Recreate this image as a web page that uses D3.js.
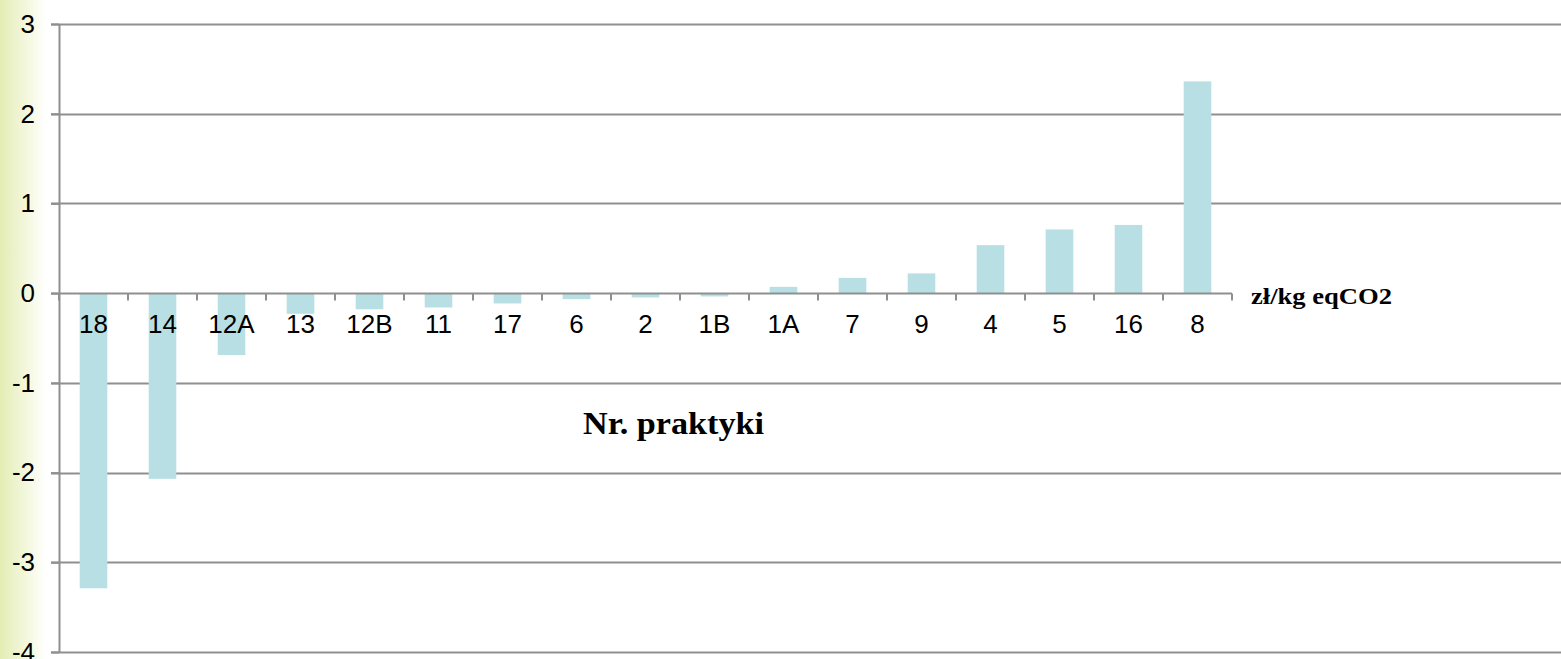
<!DOCTYPE html>
<html>
<head>
<meta charset="utf-8">
<script src="https://cdn.jsdelivr.net/npm/d3@7"></script>
<style>
  html, body { margin: 0; padding: 0; background: #fff; }
  svg { display: block; }
</style>
</head>
<body>
<svg id="chart"></svg>
<script>
// data
const categories = ["18", "14", "12A", "13", "12B", "11", "17", "6", "2", "1B", "1A", "7", "9", "4", "5", "16", "8"];
const values = [-3.29, -2.07, -0.69, -0.23, -0.18, -0.16, -0.115, -0.067, -0.048, -0.037, 0.07, 0.17, 0.22, 0.535, 0.71, 0.76, 2.36];
const yTicks = [3, 2, 1, 0, -1, -2, -3, -4];

const w = 1561, h = 659;
const margin = { top: 24, left: 59, bottom: 7 };
const catRight = 1232;   // category axis stops here
const gridRight = 1561;  // gridlines run to the edge

const svg = d3.select("#chart").attr("width", w).attr("height", h);

// pale green strip at the left edge
const defs = svg.append("defs");
const grad = defs.append("linearGradient").attr("id", "edge").attr("x1", 0).attr("x2", 1).attr("y1", 0).attr("y2", 0);
grad.append("stop").attr("offset", "0%").attr("stop-color", "#e3edb4");
grad.append("stop").attr("offset", "55%").attr("stop-color", "#f3f7dc");
grad.append("stop").attr("offset", "100%").attr("stop-color", "#ffffff");
svg.append("rect").attr("x", 0).attr("y", 0).attr("width", 46).attr("height", h).attr("fill", "url(#edge)");

const y = d3.scaleLinear().domain([-4, 3]).range([h - margin.bottom, margin.top]);
const x = d3.scaleBand().domain(categories).range([margin.left, catRight]).padding(0);

// horizontal gridlines (not the zero line, that's the axis)
svg.append("g")
  .selectAll("line")
  .data(yTicks.filter(d => d !== 0))
  .join("line")
    .attr("x1", margin.left - 8)
    .attr("x2", gridRight)
    .attr("y1", d => Math.round(y(d)) + 0.5)
    .attr("y2", d => Math.round(y(d)) + 0.5)
    .attr("stroke", "#8f8f8f")
    .attr("stroke-width", 2);

// bars
const barW = x.bandwidth() * 0.4;
svg.append("g")
  .selectAll("rect")
  .data(categories.map((c, i) => ({ c, v: values[i] })))
  .join("rect")
    .attr("x", d => x(d.c) + (x.bandwidth() - barW) / 2)
    .attr("y", d => y(Math.max(0, d.v)))
    .attr("width", barW)
    .attr("height", d => Math.abs(y(d.v) - y(0)))
    .attr("fill", "#b8dfe3");

// y axis - plain hyphen for negatives like the original
const yAxis = g => g
  .attr("transform", `translate(${margin.left},0)`)
  .call(d3.axisLeft(y).tickValues(yTicks).tickSize(8).tickPadding(16).tickFormat(d => String(d)))
  .call(g => g.select(".domain").attr("stroke", "#8f8f8f").attr("stroke-width", 2).attr("d", `M0.5,${y(3)}V${y(-4)}`))
  .call(g => g.selectAll(".tick line").attr("stroke", "#8f8f8f").attr("stroke-width", 2))
  .call(g => g.selectAll(".tick text")
    .attr("x", -24)
    .attr("font-family", "Liberation Sans, Arial, sans-serif")
    .attr("font-size", 26)
    .attr("fill", "#000"));
svg.append("g").call(yAxis);

// category axis on the zero line, ticks at the band edges
const y0 = Math.round(y(0)) + 0.5;
const catAxis = svg.append("g");
catAxis.append("line")
  .attr("x1", margin.left - 8).attr("x2", catRight)
  .attr("y1", y0).attr("y2", y0)
  .attr("stroke", "#8f8f8f").attr("stroke-width", 2);
catAxis.selectAll(".edge")
  .data(d3.range(categories.length + 1))
  .join("line")
    .attr("class", "edge")
    .attr("x1", i => margin.left + i * x.step())
    .attr("x2", i => margin.left + i * x.step())
    .attr("y1", y0).attr("y2", y0 + 7)
    .attr("stroke", "#8f8f8f").attr("stroke-width", 2);
catAxis.selectAll("text")
  .data(categories)
  .join("text")
    .attr("x", d => x(d) + x.bandwidth() / 2)
    .attr("y", 333)
    .attr("text-anchor", "middle")
    .attr("font-family", "Liberation Sans, Arial, sans-serif")
    .attr("font-size", 26)
    .attr("fill", "#000")
    .text(d => d);

// axis titles
svg.append("text")
  .attr("x", 583).attr("y", 434)
  .attr("font-family", "Liberation Serif, Times New Roman, serif")
  .attr("font-weight", "bold")
  .attr("font-size", 31)
  .attr("textLength", 181)
  .attr("lengthAdjust", "spacingAndGlyphs")
  .text("Nr. praktyki");

svg.append("text")
  .attr("x", 1251).attr("y", 304)
  .attr("font-family", "Liberation Serif, Times New Roman, serif")
  .attr("font-weight", "bold")
  .attr("font-size", 24)
  .attr("textLength", 141)
  .attr("lengthAdjust", "spacingAndGlyphs")
  .text("zł/kg eqCO2");
</script>
</body>
</html>
